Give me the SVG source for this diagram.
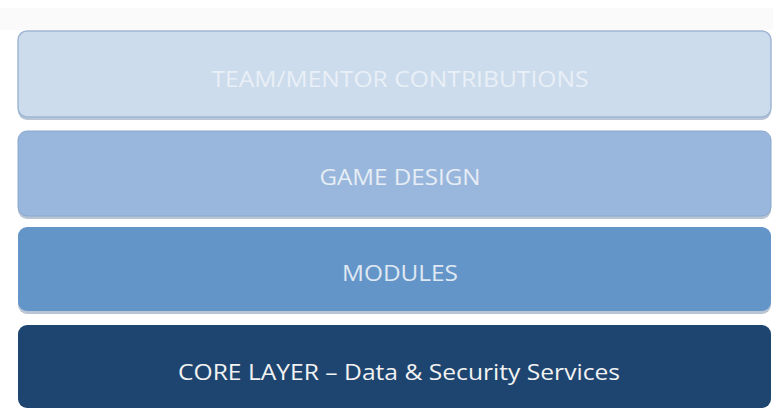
<svg xmlns="http://www.w3.org/2000/svg" width="773" height="410" viewBox="0 0 773 410">
<style>
.lbl{font-family:"Open Sans","Liberation Sans",sans-serif;font-size:21px;text-anchor:middle}
.sh{fill:#8a9fb8;opacity:0.6}
</style>
<rect width="773" height="410" fill="#ffffff"/>
<rect x="0" y="8" width="773" height="22" fill="#fafafa"/>
<g id="team">
<rect class="sh" x="18" y="33" width="753" height="87" rx="9"/>
<rect x="18" y="31" width="753" height="86" rx="9" fill="#ccdcec" stroke="#9fb7d3" stroke-width="1.5"/>
<text class="lbl" x="400" y="87" fill="#e9eff6" textLength="377" lengthAdjust="spacingAndGlyphs">TEAM/MENTOR CONTRIBUTIONS</text>
</g>
<g id="game">
<rect class="sh" x="18" y="132" width="753" height="87" rx="9"/>
<rect x="18" y="131" width="753" height="85" rx="9" fill="#99b7dc" stroke="#8aa8cc" stroke-width="1"/>
<text class="lbl" x="400" y="185" fill="#e6edf5" textLength="161" lengthAdjust="spacingAndGlyphs">GAME DESIGN</text>
</g>
<g id="modules">
<rect class="sh" x="18" y="228" width="753" height="86" rx="9"/>
<rect x="18" y="227" width="753" height="84" rx="9" fill="#6495c9"/>
<text class="lbl" x="400" y="281" fill="#dfe8f2" textLength="116" lengthAdjust="spacingAndGlyphs">MODULES</text>
</g>
<g id="core">
<rect x="18" y="325" width="753" height="83" rx="9" fill="#1e4570"/>
<text class="lbl" x="399" y="380" fill="#f2f2f2" textLength="442" lengthAdjust="spacingAndGlyphs">CORE LAYER – Data &amp; Security Services</text>
</g>
<g id="connectors"/>
</svg>
